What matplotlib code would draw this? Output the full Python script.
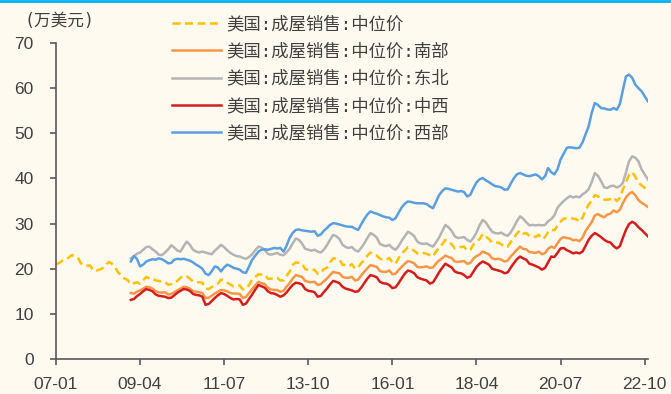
import pandas as pd
import matplotlib
matplotlib.use('Agg')
import matplotlib.pyplot as plt
from matplotlib.lines import Line2D

plt.rcParams['font.family'] = ['Liberation Sans', 'Noto Sans CJK SC', 'DejaVu Sans']

# 美国成屋销售中位价 (万美元), 月度
national = [
    21.0, 21.3, 21.7, 22.1, 22.4, 23.0, 22.9, 22.5, 21.2, 20.8, 20.7, 20.7,  # 2007
    19.6, 19.6, 19.8, 20.1, 20.9, 21.5, 21.1, 20.3, 19.1, 18.6, 17.8, 17.5,  # 2008
    16.5, 16.8, 17.0, 16.7, 17.4, 18.2, 17.8, 17.8, 17.4, 17.3, 17.1, 17.1,  # 2009
    16.4, 16.6, 17.1, 17.3, 18.0, 18.4, 18.3, 17.8, 17.2, 17.0, 17.0, 16.9,  # 2010
    15.6, 15.5, 15.9, 16.3, 16.7, 17.6, 17.4, 16.9, 16.5, 16.1, 16.2, 16.3,  # 2011
    15.4, 15.6, 16.4, 17.6, 18.2, 18.8, 18.7, 18.7, 17.8, 17.8, 17.9, 18.0,  # 2012
    17.4, 17.4, 18.4, 19.3, 20.8, 21.4, 21.3, 21.2, 19.9, 19.7, 19.6, 19.8,  # 2013
    18.9, 19.0, 19.9, 20.2, 21.4, 22.3, 22.2, 22.0, 20.9, 20.8, 20.5, 21.0,  # 2014
    20.0, 20.3, 21.2, 21.9, 22.9, 23.6, 23.0, 22.9, 22.2, 22.0, 22.0, 22.4,  # 2015
    21.4, 21.1, 22.3, 23.4, 24.0, 24.8, 24.4, 24.0, 23.4, 23.2, 23.5, 23.3,  # 2016
    23.0, 22.7, 23.8, 24.6, 25.4, 26.4, 25.8, 25.5, 24.5, 24.7, 24.8, 24.9,  # 2017
    24.0, 24.2, 25.3, 26.0, 26.5, 27.7, 27.1, 26.6, 25.8, 25.7, 25.8, 25.4,  # 2018
    24.8, 24.9, 25.9, 26.7, 27.8, 28.5, 27.8, 27.9, 27.2, 27.1, 27.1, 27.5,  # 2019
    26.6, 27.0, 28.1, 28.7, 28.5, 29.5, 30.4, 31.1, 31.2, 31.3, 31.1, 31.0,  # 2020
    30.4, 31.3, 32.9, 34.2, 35.0, 36.3, 36.0, 35.7, 35.3, 35.3, 35.4, 35.8,  # 2021
    35.0, 35.7, 37.5, 39.1, 40.8, 41.4, 40.4, 39.0, 38.5, 37.9, 37.1,        # 2022
]

# 分地区, 2009-01 起
south = [
    14.6, 14.5, 14.9, 15.2, 15.6, 16.0, 15.9, 15.6, 15.0, 14.8, 14.7, 14.8,
    14.3, 14.4, 14.8, 15.2, 15.6, 16.0, 15.9, 15.6, 15.0, 14.9, 14.8, 14.6,
    13.5, 13.6, 14.0, 14.5, 14.9, 15.3, 15.2, 15.0, 14.6, 14.5, 14.5, 14.4,
    13.5, 13.8, 14.6, 15.5, 16.3, 17.1, 16.8, 16.6, 15.8, 15.4, 15.3, 15.3,
    14.9, 15.1, 16.0, 16.8, 17.8, 18.6, 18.4, 18.2, 17.3, 17.1, 17.0, 17.1,
    16.4, 16.6, 17.2, 17.8, 18.6, 19.3, 19.1, 19.0, 18.2, 18.0, 18.0, 18.2,
    17.4, 17.6, 18.5, 19.3, 20.1, 20.8, 20.6, 20.4, 19.5, 19.3, 19.3, 19.6,
    18.8, 18.9, 19.7, 20.4, 21.1, 21.7, 21.5, 21.2, 20.4, 20.3, 20.4, 20.5,
    20.2, 20.3, 21.1, 21.8, 22.3, 22.9, 22.6, 22.4, 21.6, 21.5, 21.6, 21.7,
    21.1, 21.3, 22.2, 22.8, 23.1, 23.8, 23.5, 23.2, 22.3, 22.1, 22.2, 22.0,
    21.6, 21.8, 22.7, 23.4, 24.2, 24.9, 24.4, 24.3, 23.7, 23.6, 23.5, 23.8,
    23.2, 23.5, 24.4, 24.9, 24.6, 25.6, 26.6, 27.0, 26.8, 26.7, 26.3, 26.4,
    26.1, 26.9, 28.3, 29.3, 30.3, 31.8, 32.1, 31.7, 31.4, 32.0, 32.2, 32.9,
    32.5, 33.1, 34.5, 35.8, 36.6, 37.0, 36.3, 35.2, 34.6, 34.2, 33.7,
]
northeast = [
    22.3, 22.8, 23.3, 23.6, 24.2, 24.8, 24.9, 24.3, 23.8, 23.1, 23.0, 23.6,
    24.3, 25.2, 24.7, 24.0, 23.8, 25.0, 26.0, 25.3, 24.2, 23.8, 23.6, 23.8,
    23.6, 23.4, 23.2, 24.0, 24.6, 25.3, 24.8, 24.1, 23.5, 23.1, 22.8, 22.7,
    22.4, 22.2, 22.6, 23.2, 24.1, 24.9, 24.7, 24.2, 23.3, 23.1, 23.3, 23.5,
    23.1, 23.0, 23.6, 24.4, 25.6, 26.7, 26.4, 25.6, 24.4, 24.2, 24.0, 24.2,
    23.8, 23.6, 24.2, 25.2, 26.4, 27.5, 27.2, 26.6, 25.3, 24.8, 24.6, 24.8,
    24.1, 23.8, 24.6, 25.6, 26.8, 27.9, 27.5, 26.9, 25.5, 25.2, 25.0, 25.3,
    24.6, 24.2, 25.0, 26.2, 27.2, 28.2, 27.8, 27.2, 26.0, 25.6, 25.5, 25.6,
    25.2, 24.9, 25.8, 26.9, 28.3, 29.7, 29.2, 28.4, 27.2, 26.8, 26.9, 27.0,
    26.4, 26.0, 26.8, 28.0, 29.6, 30.8, 30.3, 29.2, 28.2, 27.9, 27.8, 28.0,
    27.5, 27.3, 28.0, 29.2, 30.5, 31.6, 31.1, 30.3, 29.6, 29.7, 29.6, 29.7,
    29.6, 29.7, 30.5, 31.0, 31.8, 33.5, 34.3, 35.0, 35.6, 36.1, 35.8, 36.0,
    35.8, 36.5, 36.9, 37.6, 39.2, 41.2, 40.6, 39.4, 38.0, 37.9, 38.3, 38.4,
    38.0, 38.3, 39.0, 41.3, 43.8, 44.9, 44.6, 43.8, 42.0, 40.9, 39.8,
]
midwest = [
    13.1, 13.3, 13.9, 14.4, 15.0, 15.5, 15.3, 15.0, 14.3, 14.0, 13.9, 13.8,
    13.5, 13.6, 14.1, 14.7, 15.1, 15.5, 15.4, 15.1, 14.4, 14.2, 14.1, 13.8,
    12.0, 12.2, 12.8, 13.5, 14.1, 14.6, 14.4, 14.0, 13.5, 13.2, 13.3, 13.2,
    12.0, 12.3, 13.3, 14.3, 15.4, 16.4, 16.1, 15.8, 15.0, 14.6, 14.5, 14.2,
    13.8, 14.1, 14.7, 15.6, 16.4, 16.9, 16.8, 16.5, 15.5, 15.1, 15.0, 14.8,
    13.8, 14.0, 14.8, 15.6, 16.5, 17.3, 17.1, 16.8, 16.0, 15.6, 15.4, 15.2,
    14.9, 15.0, 15.8, 16.8, 17.8, 18.6, 18.4, 18.1, 17.1, 16.8, 16.7, 16.4,
    15.7, 15.9, 16.8, 17.9, 18.9, 19.6, 19.4, 19.0, 18.1, 17.8, 17.6, 17.4,
    16.7, 17.0, 18.0, 19.2, 20.2, 21.1, 20.7, 20.3, 19.4, 19.1, 19.0, 18.6,
    18.0, 18.3, 19.3, 20.4, 21.1, 21.6, 21.3, 20.9, 20.0, 19.8, 19.6, 19.4,
    19.0, 19.2, 20.2, 21.2, 22.1, 22.7, 22.3, 22.0, 21.1, 20.9, 20.6, 20.3,
    19.8, 20.2, 21.4, 22.7, 22.6, 23.5, 24.5, 24.6, 24.1, 23.8, 23.4, 23.6,
    23.4, 23.8, 25.0, 26.4, 27.3, 27.9, 27.5, 27.0, 26.4, 26.0, 25.8, 25.0,
    24.5, 25.0, 26.8, 28.6, 29.9, 30.4, 30.0, 29.2, 28.6, 27.9, 27.2,
]
west = [
    21.6, 22.8, 22.2, 20.5, 20.9, 21.6, 21.9, 22.1, 22.0, 22.3, 22.1, 21.7,
    21.2, 21.3, 22.0, 22.2, 22.1, 22.2, 22.0, 21.8, 21.4, 20.9, 20.5, 20.0,
    18.9, 18.6, 19.4, 20.5, 20.3, 19.4, 20.3, 20.9, 20.6, 20.2, 20.0, 19.8,
    19.2, 19.1, 20.5, 22.0, 22.9, 23.8, 24.2, 24.3, 24.2, 24.4, 24.6, 24.5,
    24.6, 23.8, 25.0, 26.8, 27.9, 28.6, 28.7, 28.5, 28.4, 28.3, 28.2, 28.3,
    27.3, 27.6, 28.4, 29.0, 29.7, 30.1, 30.0, 29.8, 29.6, 29.4, 29.3, 29.3,
    28.9, 28.6, 29.8, 31.0, 32.0, 32.7, 32.4, 32.2, 31.9, 31.6, 31.4, 31.3,
    30.8, 31.2, 32.4, 33.6, 34.4, 34.9, 34.8, 34.6, 34.5, 34.5, 34.5, 34.3,
    33.8, 33.4, 34.8, 36.3, 37.2, 37.8, 37.7, 37.5, 37.3, 37.1, 37.2, 37.0,
    36.0, 36.4, 37.8, 39.1, 39.8, 40.1, 39.6, 39.2, 38.7, 38.3, 38.2, 38.0,
    37.5, 37.6, 38.8, 40.0, 40.9, 41.2, 40.9, 40.6, 40.5, 40.7, 40.9, 40.5,
    39.8, 40.5, 42.3, 41.4, 40.9, 42.0, 44.2, 45.5, 46.8, 46.9, 46.8, 46.7,
    46.8, 48.0, 49.7, 51.5, 54.5, 56.7, 56.3, 55.6, 55.5, 55.3, 55.2, 55.6,
    55.2, 56.5, 59.5, 62.6, 63.0, 62.3, 60.8, 60.0, 59.3, 58.2, 57.1,
]

labels = ['美国:成屋销售:中位价', '美国:成屋销售:中位价:南部', '美国:成屋销售:中位价:东北',
          '美国:成屋销售:中位价:中西', '美国:成屋销售:中位价:西部']
tick_labels = ['07-01', '09-04', '11-07', '13-10', '16-01', '18-04', '20-07', '22-10']

dates_all = pd.date_range('2007-01-01', periods=len(national), freq='MS')
dates_reg = pd.date_range('2009-01-01', periods=len(south), freq='MS')

bg = '#FEFAF0'
cjk = ['DejaVu Sans Mono', 'Noto Sans CJK SC']
fig = plt.figure(figsize=(6.71, 3.94), dpi=100, facecolor=bg)
ax = fig.add_axes([0.0835, 0.0888, 0.882, 0.802], facecolor=bg)

lw = 1.8
ax.plot(dates_all, national, color='#FFC000', lw=lw, ls=(0, (3.2, 1.8)), label=labels[0])
ax.plot(dates_reg, south, color='#F79646', lw=lw, label=labels[1])
ax.plot(dates_reg, northeast, color='#B4B4B4', lw=lw, label=labels[2])
ax.plot(dates_reg, midwest, color='#D41E1E', lw=lw, label=labels[3])
ax.plot(dates_reg, west, color='#5B9EDF', lw=lw, label=labels[4])

ax.set_ylim(0, 70)
ax.set_yticks(range(0, 71, 10))
ax.set_xlim(dates_all[0], dates_all[-1])
ticks = pd.to_datetime(['20' + t + '-01' for t in tick_labels])
ax.set_xticks(ticks)
ax.set_xticklabels(tick_labels)

for s in ['top', 'right']:
    ax.spines[s].set_visible(False)
for s in ['left', 'bottom']:
    ax.spines[s].set_color('#595959')
    ax.spines[s].set_linewidth(1.2)
ax.tick_params(colors='#595959', labelcolor='#404040', labelsize=12.5, length=4, width=1.2)
ax.tick_params(axis='y', pad=12)
ax.tick_params(axis='x', pad=9)

fig.text(0.037, 0.947, '(万美元)', fontsize=12, color='#404040', family=cjk, va='center')

leg = ax.legend(loc='upper left', bbox_to_anchor=(0.2563, 0.962), bbox_transform=fig.transFigure,
                frameon=False, handlelength=2.8, handletextpad=0.35, labelspacing=0.54,
                borderpad=0, borderaxespad=0,
                prop={'family': cjk, 'size': 12.5})
for t in leg.get_texts():
    t.set_color('#404040')

fig.add_artist(Line2D([0, 1], [0.997, 0.997], color='#00B0F0', lw=2, transform=fig.transFigure))

plt.savefig('out.png', dpi=100, facecolor=bg)
